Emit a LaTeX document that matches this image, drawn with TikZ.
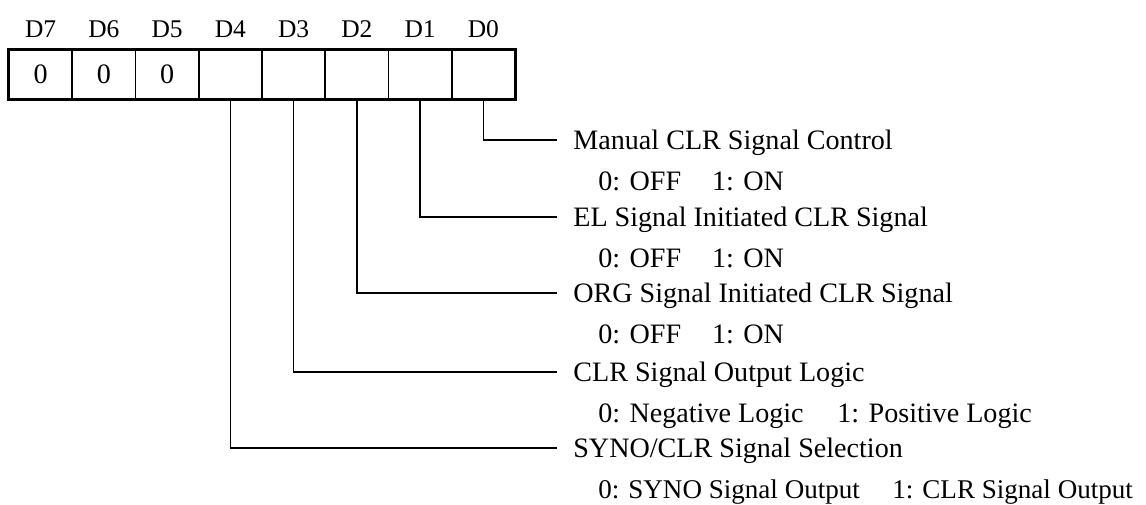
\documentclass[tikz,border=0pt]{standalone}
\usepackage{fontspec}
\setmainfont{Liberation Serif}
\usetikzlibrary{positioning}

\begin{document}
\begin{tikzpicture}[x=0.02cm, y=-0.02cm,
  bitcell/.style={draw, line width=1.1pt, minimum width=1.265cm, minimum height=0.98cm,
    inner sep=0pt, font=\fontsize{16}{18}\selectfont},
  bitname/.style={font=\fontsize{14.5}{16}\selectfont},
  lead/.style={line width=0.8pt, shorten >=0.32cm},
  title/.style={anchor=west, inner sep=0pt, text height=10.6pt, text depth=0pt,
    font=\fontsize{16}{18}\selectfont},
  choice/.style={title}
]
  \useasboundingbox (0,0) rectangle (1146,504);

  \foreach \b/\v [count=\i from 0] in {7/0,6/0,5/0,4/,3/,2/,1/,0/} {
    \node[bitcell] (d\b) at ({9+63.25*(\i+0.5)},74.5) {\v};
    \node[bitname] (n\b) at ({9+63.25*(\i+0.5)},29) {D\b};
  }
  \draw[line width=1.5pt] (d7.north west) rectangle (d0.south east);

  \node[title]  (manual)    at (573,140) {Manual CLR Signal Control};
  \node[choice] (manualopt) at (598,181) {0: OFF\hspace{1.1em}1: ON};
  \node[title]  (elsig)     at (573,217) {EL Signal Initiated CLR Signal};
  \node[choice] (elsigopt)  at (598,258) {0: OFF\hspace{1.1em}1: ON};
  \node[title]  (orgsig)    at (573,293) {ORG Signal Initiated CLR Signal};
  \node[choice] (orgsigopt) at (598,334) {0: OFF\hspace{1.1em}1: ON};
  \node[title]  (logic)     at (573,372) {CLR Signal Output Logic};
  \node[choice] (logicopt)  at (598,413) {0: Negative Logic\hspace{1.2em}1: Positive Logic};
  \node[title]  (select)    at (573,448) {SYNO/CLR Signal Selection};
  \node[choice, font=\fontsize{15.4}{18}\selectfont] (selectopt) at (598,489)
    {0: SYNO Signal Output\hspace{1.2em}1: CLR Signal Output};

  \draw[lead] (d0.south) |- (manual.west);
  \draw[lead] (d1.south) |- (elsig.west);
  \draw[lead] (d2.south) |- (orgsig.west);
  \draw[lead] (d3.south) |- (logic.west);
  \draw[lead] (d4.south) |- (select.west);
\end{tikzpicture}
\end{document}
